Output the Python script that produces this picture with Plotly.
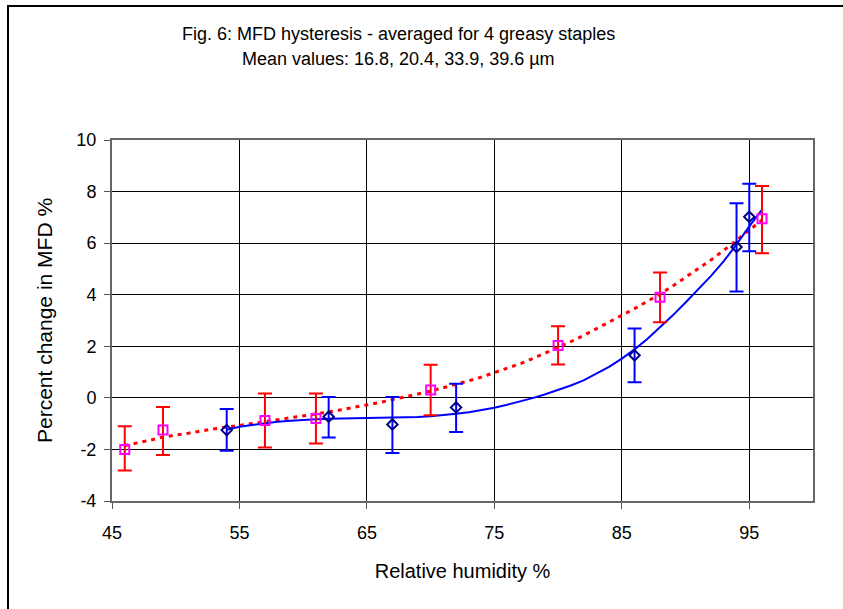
import plotly.graph_objects as go

# drying / sorption series (red error bars, magenta squares)
rh_red = [46, 49, 57, 61, 70, 80, 88, 96]
mfd_red = [-2.0, -1.25, -0.88, -0.8, 0.3, 2.03, 3.9, 6.95]
err_red_up = [0.9, 0.9, 1.05, 0.97, 0.98, 0.75, 0.96, 1.27]
err_red_down = [0.82, 0.97, 1.05, 0.97, 0.97, 0.74, 0.97, 1.34]

# second series (blue error bars, navy diamonds)
rh_blue = [54, 62, 67, 72, 86, 94, 95]
mfd_blue = [-1.25, -0.73, -1.03, -0.37, 1.65, 5.85, 7.02]
err_blue_up = [0.82, 0.76, 1.06, 0.92, 1.04, 1.7, 1.28]
err_blue_down = [0.8, 0.81, 1.11, 0.95, 1.04, 1.73, 1.33]

# trend lines
trend_red_x = list(range(46, 97))
trend_red_y = [-1.85, -1.75, -1.64, -1.52, -1.45, -1.37, -1.28, -1.20, -1.13, -1.07,
               -1.0, -0.93, -0.86, -0.78, -0.70, -0.63, -0.55, -0.46, -0.37, -0.27,
               -0.18, -0.07, 0.03, 0.15, 0.26, 0.39, 0.52, 0.66, 0.81, 0.97,
               1.14, 1.32, 1.52, 1.73, 1.95, 2.18, 2.42, 2.67, 2.93, 3.20,
               3.46, 3.74, 4.03, 4.34, 4.67, 5.00, 5.35, 5.72, 6.10, 6.50, 6.90]
trend_blue_x = list(range(54, 97))
trend_blue_y = [-1.24, -1.12, -1.05, -0.98, -0.93, -0.89, -0.85, -0.83, -0.81, -0.80,
                -0.79, -0.79, -0.78, -0.78, -0.76, -0.74, -0.71, -0.67, -0.62, -0.56,
                -0.48, -0.38, -0.27, -0.15, -0.01, 0.14, 0.30, 0.48, 0.68, 0.93,
                1.20, 1.52, 1.88, 2.28, 2.73, 3.20, 3.70, 4.20, 4.73, 5.30,
                5.95, 6.65, 7.30]

x_ticks = [45, 55, 65, 75, 85, 95]
y_ticks = [-4, -2, 0, 2, 4, 6, 8, 10]
y_tick_labels = ["-4", "-2", "0", "2", "4", "6", "8", "10"]

fig = go.Figure()

fig.add_trace(go.Scatter(
    x=trend_red_x, y=trend_red_y, mode="lines",
    line=dict(color="#FF0000", width=3, dash="4px,5px"), hoverinfo="skip",
))
fig.add_trace(go.Scatter(
    x=trend_blue_x, y=trend_blue_y, mode="lines",
    line=dict(color="#0000FF", width=2), hoverinfo="skip",
))
fig.add_trace(go.Scatter(
    x=rh_red, y=mfd_red, mode="markers",
    marker=dict(symbol="square-open", size=9, color="#FF00FF", line=dict(width=2)),
    error_y=dict(type="data", symmetric=False, array=err_red_up,
                 arrayminus=err_red_down, color="#FF0000", thickness=2, width=7),
))
fig.add_trace(go.Scatter(
    x=rh_blue, y=mfd_blue, mode="markers",
    marker=dict(symbol="diamond-open", size=8, color="#000080", line=dict(width=2)),
    error_y=dict(type="data", symmetric=False, array=err_blue_up,
                 arrayminus=err_blue_down, color="#0000FF", thickness=2, width=7),
))

font = "Liberation Sans, Arial, sans-serif"
fig.update_layout(
    width=843, height=609,
    margin=dict(l=112, r=30, t=140, b=108),
    paper_bgcolor="white", plot_bgcolor="white",
    showlegend=False,
    font=dict(family=font, color="black"),
    xaxis=dict(
        range=[45, 100], tickvals=x_ticks, ticks="outside", ticklen=6,
        tickcolor="#555", showgrid=True, gridcolor="black", gridwidth=1,
        showline=True, linecolor="#666", linewidth=2, mirror=True,
        tickfont=dict(size=18), zeroline=False, ticklabelstandoff=8,
        title=dict(text="Relative humidity %", font=dict(size=20), standoff=22),
    ),
    yaxis=dict(
        range=[-4, 10], tickvals=y_ticks, ticktext=y_tick_labels,
        ticks="outside", ticklen=6,
        tickcolor="#555", showgrid=True, gridcolor="black", gridwidth=1,
        showline=True, linecolor="#666", linewidth=2, mirror=True,
        tickfont=dict(size=18), zeroline=False, ticklabelstandoff=4,
        title=dict(text="Percent change in MFD %", font=dict(size=21), standoff=18),
    ),
)

fig.add_annotation(text="Fig. 6: MFD hysteresis - averaged for 4 greasy staples",
                   xref="paper", yref="paper", x=(398 - 112) / 701, y=(501 - 34) / 361,
                   showarrow=False, font=dict(size=18), xanchor="center", yanchor="middle")
fig.add_annotation(text="Mean values: 16.8, 20.4, 33.9, 39.6 µm",
                   xref="paper", yref="paper", x=(398 - 112) / 701, y=(501 - 59) / 361,
                   showarrow=False, font=dict(size=18), xanchor="center", yanchor="middle")

# outer chart frame
fig.add_shape(type="rect", xref="paper", yref="paper",
              x0=(8 - 112) / 701, x1=(860 - 112) / 701,
              y0=(501 - 630) / 361, y1=(501 - 6) / 361,
              line=dict(color="black", width=2), layer="below")

fig.write_html("out.html", config={"displayModeBar": False},
               post_script="document.body.style.margin='0';")
